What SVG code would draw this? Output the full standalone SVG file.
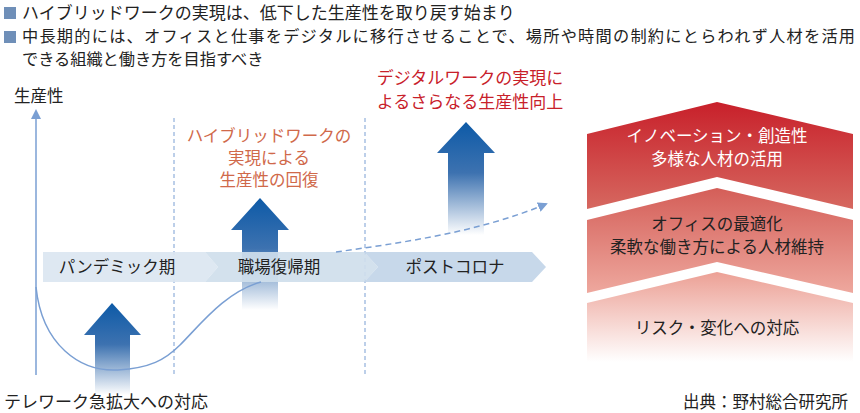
<svg xmlns="http://www.w3.org/2000/svg" width="860" height="413" viewBox="0 0 860 413">
<style>
text{font-family:"Noto Sans CJK JP","Liberation Sans",sans-serif;}
.h{font-size:17px;fill:#222}
.h2{font-size:16.2px;fill:#222}
.s{font-size:16.5px;fill:#222}
.b{font-size:16.5px;fill:#222;text-anchor:middle}
.w{font-size:16.5px;fill:#fff;text-anchor:middle}
.o{font-size:16.5px;fill:#d0694a;text-anchor:middle}
.r{font-size:17px;fill:#c8202a;text-anchor:middle}
.vd{stroke:#7a9fd3;stroke-width:1;stroke-dasharray:4 3}
</style>
<defs>
<linearGradient id="ba" x1="0" y1="0" x2="0" y2="1"><stop offset="0" stop-color="#0d5aa7"/><stop offset="0.45" stop-color="#3d72b0"/><stop offset="1" stop-color="#fff"/></linearGradient>
<linearGradient id="r1" x1="0" y1="0" x2="0" y2="1"><stop offset="0" stop-color="#c8202a"/><stop offset="1" stop-color="#d66860"/></linearGradient>
<linearGradient id="r2" x1="0" y1="0" x2="0" y2="1"><stop offset="0" stop-color="#d45e58"/><stop offset="1" stop-color="#eea89e"/></linearGradient>
<linearGradient id="r3" x1="0" y1="0" x2="0" y2="1"><stop offset="0" stop-color="#eca095"/><stop offset="1" stop-color="#fff"/></linearGradient>
<marker id="ah" markerWidth="10" markerHeight="10" refX="8" refY="5" orient="auto" markerUnits="userSpaceOnUse"><path d="M0,0 L10,5 L0,10 Z" fill="#7a9fd3"/></marker>
</defs>
<g id="header">
<rect x="4" y="7" width="12" height="12" fill="#6f8fb8"/>
<text class="h" x="22" y="19">ハイブリッドワークの実現は、低下した生産性を取り戻す始まり</text>
<rect x="4" y="31" width="12" height="12" fill="#6f8fb8"/>
<text class="h2" x="22" y="42" textLength="833" lengthAdjust="spacing">中長期的には、オフィスと仕事をデジタルに移行させることで、場所や時間の制約にとらわれず人材を活用</text>
<text class="h2" x="22" y="65">できる組織と働き方を目指すべき</text>
</g>
<g id="axis">
<line x1="36" y1="375" x2="36" y2="116" stroke="#7a9fd3" stroke-width="1.5"/>
<path d="M31,119 L36,109 L41,119 Z" fill="#7a9fd3"/>
<text class="s" x="14" y="102">生産性</text>
<line class="vd" x1="174" y1="118" x2="174" y2="375"/>
<line class="vd" x1="365" y1="118" x2="365" y2="375"/>
</g>
<g id="arrow1"><path d="M95,395 L95,335 L84,335 L112,303 L141,335 L130,335 L130,395 Z" fill="url(#ba)"/></g>
<g id="arrow2"><path d="M242,310 L242,230 L231,230 L260,198 L289,230 L278,230 L278,310 Z" fill="url(#ba)"/></g>
<g id="arrow3"><path d="M448,235 L448,153 L437,153 L466,122 L495,153 L484,153 L484,235 Z" fill="url(#ba)"/></g>
<g id="phases">
<path d="M43,252 L205,252 L218,267 L205,282 L43,282 Z" fill="#dbe6f1" opacity="0.92"/>
<path d="M205,252 L364,252 L378,267 L364,282 L205,282 L218,267 Z" fill="#cfdeec" opacity="0.92"/>
<path d="M364,252 L532,252 L546,267 L532,282 L364,282 L378,267 Z" fill="#c2d5e8" opacity="0.92"/>
<text class="b" x="117" y="273">パンデミック期</text>
<text class="b" x="279" y="273">職場復帰期</text>
<text class="b" x="455" y="273">ポストコロナ</text>
</g>
<g id="connectors">
<path d="M36,287 C42,345 80,372 118,370 C150,368 165,360 180,345 C200,325 225,292 261,282" fill="none" stroke="#7a9fd3" stroke-width="1.5"/>
<path d="M336,252 C400,243 480,232 546,204" fill="none" stroke="#7a9fd3" stroke-width="1.5" stroke-dasharray="6 4" marker-end="url(#ah)"/>
</g>
<g id="labels">
<text class="o" x="269" y="142">ハイブリッドワークの</text>
<text class="o" x="269" y="164">実現による</text>
<text class="o" x="269" y="186">生産性の回復</text>
<text class="r" x="470" y="84">デジタルワークの実現に</text>
<text class="r" x="470" y="108">よるさらなる生産性向上</text>
<text class="h" x="4" y="408">テレワーク急拡大への対応</text>
</g>
<g id="band1"><path d="M587,134 L717,102 L853,134 L853,209 L717,177 L587,209 Z" fill="url(#r1)"/>
<text class="w" x="717" y="142">イノベーション・創造性</text><text class="w" x="717" y="165">多様な人材の活用</text></g>
<g id="band2"><path d="M587,220 L717,188 L853,220 L853,293 L717,262 L587,293 Z" fill="url(#r2)"/>
<text class="b" x="717" y="230">オフィスの最適化</text><text class="b" x="717" y="253">柔軟な働き方による人材維持</text></g>
<g id="band3"><path d="M587,303 L717,272 L853,303 L853,362 L587,362 Z" fill="url(#r3)"/>
<text class="b" x="717" y="334">リスク・変化への対応</text></g>
<text class="s" x="848" y="408" text-anchor="end">出典：野村総合研究所</text>
</svg>
